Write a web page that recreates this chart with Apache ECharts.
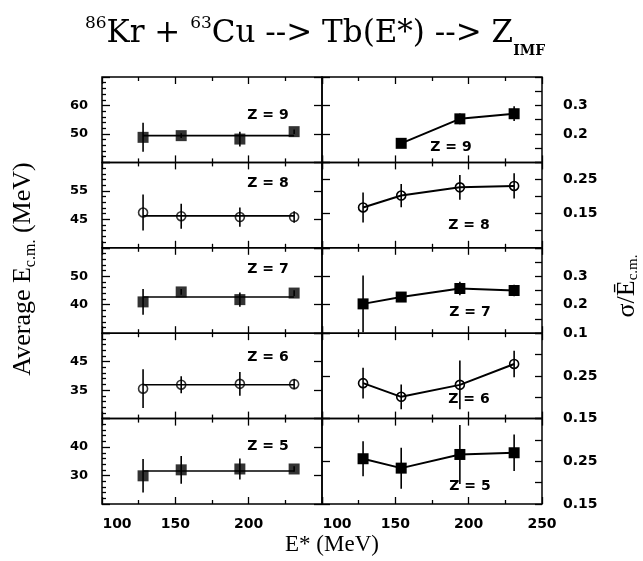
<!DOCTYPE html>
<html><head><meta charset="utf-8">
<script src="https://cdn.jsdelivr.net/npm/echarts@6/dist/echarts.min.js"></script>
<style>html,body{margin:0;padding:0;background:#fff}#c{width:643px;height:561px}</style>
</head><body><div id="c"></div>
<script>
// ---------------- data ----------------
const energies = [128, 154, 194, 231];          // E* (MeV)
const zValues = [9, 8, 7, 6, 5];
// Average E_cm (MeV) per Z (rows top->bottom)
const ecmZ9 = [48.8, 49.4, 48.2, 50.8];
const ecmZ8 = [47.4, 46.1, 45.8, 45.8];
const ecmZ7 = [41.0, 44.5, 41.8, 44.1];
const ecmZ6 = [35.5, 36.9, 37.2, 37.1];
const ecmZ5 = [29.9, 32.0, 32.3, 32.3];
const ecmErrZ9 = [5.1, 0.8, 2.6, 0.8];
const ecmErrZ8 = [6.3, 4.4, 3.4, 2.0];
const ecmErrZ7 = [4.5, 1.0, 2.5, 1.0];
const ecmErrZ6 = [6.8, 3.0, 4.2, 1.8];
const ecmErrZ5 = [5.9, 4.9, 3.7, 1.0];
const ecmFit = [49.4, 46.2, 42.7, 36.9, 31.6];
// sigma / mean E_cm per Z
const sigZ9 = [null, 0.167, 0.253, 0.271];
const sigZ8 = [0.168, 0.203, 0.227, 0.231];
const sigZ7 = [0.203, 0.227, 0.257, 0.250];
const sigZ6 = [0.233, 0.201, 0.229, 0.278];
const sigZ5 = [0.256, 0.234, 0.266, 0.270];
const sigErrZ9 = [0, 0.015, 0.019, 0.026];
const sigErrZ8 = [0.044, 0.034, 0.036, 0.037];
const sigErrZ7 = [0.1, 0.01, 0.024, 0.02];
const sigErrZ6 = [0.036, 0.029, 0.057, 0.031];
const sigErrZ5 = [0.041, 0.048, 0.069, 0.043];
// axis ranges and tick labels
const leftRanges = [[40, 70], [35, 65], [30, 60], [25, 55], [20, 50]];
const rightRanges = [[0.1, 0.4], [0.05, 0.3], [0.1, 0.4], [0.15, 0.35], [0.15, 0.35]];
const leftLabelVals = [[50, 60], [45, 55], [40, 50], [35, 45], [30, 40]];
const rightLabelVals = [[0.2, 0.3], [0.15, 0.25], [0.1, 0.2, 0.3], [0.15, 0.25], [0.15, 0.25]];
const xLabelsLeft = [100, 150, 200];
const xLabelsRight = [100, 150, 200, 250];
const markerType = ['rect', 'circle', 'rect', 'circle', 'rect'];

const ecm = [ecmZ9, ecmZ8, ecmZ7, ecmZ6, ecmZ5];
const ecmErr = [ecmErrZ9, ecmErrZ8, ecmErrZ7, ecmErrZ6, ecmErrZ5];
const sig = [sigZ9, sigZ8, sigZ7, sigZ6, sigZ5];
const sigErr = [sigErrZ9, sigErrZ8, sigErrZ7, sigErrZ6, sigErrZ5];

// ---------------- layout ----------------
const rowTop = [77, 162.4, 247.8, 333.2, 418.6];
const rowH = 85.4;
const colLeft = [102, 322];
const colW = 220;
const tickStyle = {color: '#000', width: 1.3};
const labFont = {fontFamily: 'DejaVu Sans', fontWeight: 'bold', color: '#000'};
const has = (list, v) => list.some(l => Math.abs(l - v) < 1e-6);

function errSeries(ai, vals, errs) {
  const data = [];
  energies.forEach((e, i) => { if (vals[i] != null) data.push([e, vals[i] - errs[i], vals[i] + errs[i]]); });
  return {
    type: 'custom', xAxisIndex: ai, yAxisIndex: ai, data: data, z: 3, silent: true,
    renderItem: (params, api) => {
      const x = api.value(0);
      const lo = api.coord([x, api.value(1)]);
      const hi = api.coord([x, api.value(2)]);
      return {type: 'line', shape: {x1: lo[0], y1: lo[1], x2: hi[0], y2: hi[1]},
        style: {stroke: '#000', lineWidth: 1.6}};
    }
  };
}
function markerStyle(r) {
  return markerType[r] === 'rect'
    ? {color: '#000'}
    : {color: 'rgba(0,0,0,0)', borderColor: '#000', borderWidth: 1.6};
}

const grids = [], xAxes = [], yAxes = [], series = [];
for (let r = 0; r < 5; r++) {
  for (let c = 0; c < 2; c++) {
    const g = r * 2 + c;
    grids.push({left: colLeft[c], top: rowTop[r], width: colW, height: rowH, show: true,
      borderColor: '#000', borderWidth: 1.5, backgroundColor: 'rgba(0,0,0,0)'});
    const xl = c === 0 ? xLabelsLeft : xLabelsRight;
    const xBase = {type: 'value', gridIndex: g, min: 100, max: 250, interval: 50,
      axisLine: {show: false, onZero: false}, splitLine: {show: false},
      axisTick: {show: true, inside: true, length: 7, lineStyle: tickStyle},
      minorTick: {show: true, splitNumber: 2, length: 4, lineStyle: tickStyle}};
    xAxes.push(Object.assign({}, xBase, {position: 'bottom',
      axisLabel: {show: r === 4, margin: 13, fontSize: 14, ...labFont, showMinLabel: true, showMaxLabel: true,
        formatter: v => has(xl, v) ? (v === 100 ? '{first|' + v + '}' : '{n|' + v + '}') : '',
        rich: {first: {padding: [0, 0, 0, 30], fontSize: 14, ...labFont}, n: {fontSize: 14, ...labFont}}}}));
    xAxes.push(Object.assign({}, xBase, {position: 'top', axisLabel: {show: false}}));

    if (c === 0) {
      const [mn, mx] = leftRanges[r];
      yAxes.push({type: 'value', gridIndex: g, position: 'left', min: mn, max: mx, interval: 10,
        axisLine: {show: false, onZero: false}, splitLine: {show: false},
        axisTick: {show: true, inside: true, length: 8, lineStyle: tickStyle},
        minorTick: {show: true, splitNumber: 5, length: 4, lineStyle: tickStyle},
        axisLabel: {margin: 14, fontSize: 13, ...labFont, showMinLabel: true, showMaxLabel: true,
          formatter: v => has(leftLabelVals[r], v) ? String(v) : ''}});
      yAxes.push({type: 'value', gridIndex: g, position: 'right', min: mn, max: mx, interval: 10,
        axisLine: {show: false, onZero: false}, splitLine: {show: false},
        axisTick: {show: true, inside: true, length: 8, lineStyle: tickStyle},
        axisLabel: {show: false}});
      // fit line
      series.push({type: 'line', xAxisIndex: 2 * g, yAxisIndex: 2 * g, z: 2, silent: true,
        data: [[energies[0], ecmFit[r]], [energies[energies.length - 1], ecmFit[r]]],
        symbol: 'none', lineStyle: {color: '#000', width: 1.6}});
      series.push(errSeries(2 * g, ecm[r], ecmErr[r]));
      series.push({type: 'scatter', xAxisIndex: 2 * g, yAxisIndex: 2 * g, z: 4, silent: true,
        data: energies.map((e, i) => [e, ecm[r][i]]),
        symbol: markerType[r], symbolSize: markerType[r] === 'rect' ? 11 : 9,
        itemStyle: markerStyle(r)});
    } else {
      const [mn, mx] = rightRanges[r];
      yAxes.push({type: 'value', gridIndex: g, position: 'right', min: mn, max: mx, interval: 0.05,
        axisLine: {show: false, onZero: false}, splitLine: {show: false},
        axisTick: {show: true, inside: true, length: 7, lineStyle: tickStyle},
        axisLabel: {margin: 21, fontSize: 14, ...labFont, showMinLabel: true, showMaxLabel: true,
          formatter: v => has(rightLabelVals[r], v) ? String(+v.toFixed(2)) : ''}});
      yAxes.push({type: 'value', gridIndex: g, position: 'left', min: mn, max: mx, interval: 0.1,
        axisLine: {show: false, onZero: false}, splitLine: {show: false},
        axisTick: {show: true, inside: true, length: 8, lineStyle: tickStyle},
        axisLabel: {show: false}});
      series.push(errSeries(2 * g, sig[r], sigErr[r]));
      const pts = [];
      energies.forEach((e, i) => { if (sig[r][i] != null) pts.push([e, sig[r][i]]); });
      series.push({type: 'line', xAxisIndex: 2 * g, yAxisIndex: 2 * g, z: 4, silent: true,
        data: pts, showSymbol: true, showAllSymbol: true,
        symbol: markerType[r], symbolSize: markerType[r] === 'rect' ? 11 : 9,
        itemStyle: markerStyle(r), lineStyle: {color: '#000', width: 2}});
    }
  }
}

// Z labels
const zLabelPosLeft = [[268, 115], [268, 183], [268, 269], [268, 357], [268, 446]];
const zLabelPosRight = [[451, 147], [469, 225], [470, 312], [469, 399], [470, 486]];
const graphics = [];
zValues.forEach((z, r) => {
  [zLabelPosLeft[r], zLabelPosRight[r]].forEach(p => {
    graphics.push({type: 'text', x: p[0], y: p[1], z: 10,
      style: {text: 'Z = ' + z, fontSize: 14, fontWeight: 'bold', fontFamily: 'DejaVu Sans',
        fill: '#000', align: 'center', verticalAlign: 'middle', textAlign: 'center', textVerticalAlign: 'middle'}});
  });
});
const serif = '"Liberation Serif", "DejaVu Serif", serif';
const dserif = '"DejaVu Serif", serif';
graphics.push({type: 'text', x: 315, y: 34, z: 10,
  style: {text: '{sup|86}{m|Kr + }{sup|63}{m|Cu --> Tb(E*) --> Z}{sub|IMF}',
    align: 'center', verticalAlign: 'middle', textAlign: 'center', textVerticalAlign: 'middle',
    rich: {
      m: {fontSize: 31, fontFamily: dserif, lineHeight: 50, verticalAlign: 'middle', fill: '#000'},
      sup: {fontSize: 17, fontFamily: dserif, height: 30, lineHeight: 30, verticalAlign: 'top', fill: '#000'},
      sub: {fontSize: 14, fontFamily: dserif, fontWeight: 'bold', height: 16, lineHeight: 16, verticalAlign: 'bottom', fill: '#000'}
    }}});
graphics.push({type: 'text', x: 23, y: 269, rotation: Math.PI / 2, z: 10,
  style: {text: '{m|Average E}{s|c.m.}{m| (MeV)}',
    align: 'center', verticalAlign: 'middle', textAlign: 'center', textVerticalAlign: 'middle',
    rich: {
      m: {fontSize: 26, fontFamily: serif, lineHeight: 32, verticalAlign: 'middle', fill: '#000'},
      s: {fontSize: 16, fontFamily: serif, lineHeight: 16, verticalAlign: 'bottom', fill: '#000'}
    }}});
graphics.push({type: 'text', x: 627, y: 286, rotation: Math.PI / 2, z: 10,
  style: {text: '{m|σ/Ē}{s|c.m.}',
    align: 'center', verticalAlign: 'middle', textAlign: 'center', textVerticalAlign: 'middle',
    rich: {
      m: {fontSize: 26, fontFamily: serif, lineHeight: 28, verticalAlign: 'middle', fill: '#000'},
      s: {fontSize: 15, fontFamily: serif, lineHeight: 15, verticalAlign: 'bottom', fill: '#000'}
    }}});
graphics.push({type: 'text', x: 332, y: 545, z: 10,
  style: {text: 'E* (MeV)', fontSize: 23, fontFamily: serif, fill: '#000',
    align: 'center', verticalAlign: 'middle', textAlign: 'center', textVerticalAlign: 'middle'}});

const chart = echarts.init(document.getElementById('c'), null, {renderer: 'canvas'});
chart.setOption({
  animation: false,
  backgroundColor: '#fff',
  grid: grids, xAxis: xAxes, yAxis: yAxes, series: series,
  graphic: graphics
});
</script></body></html>
